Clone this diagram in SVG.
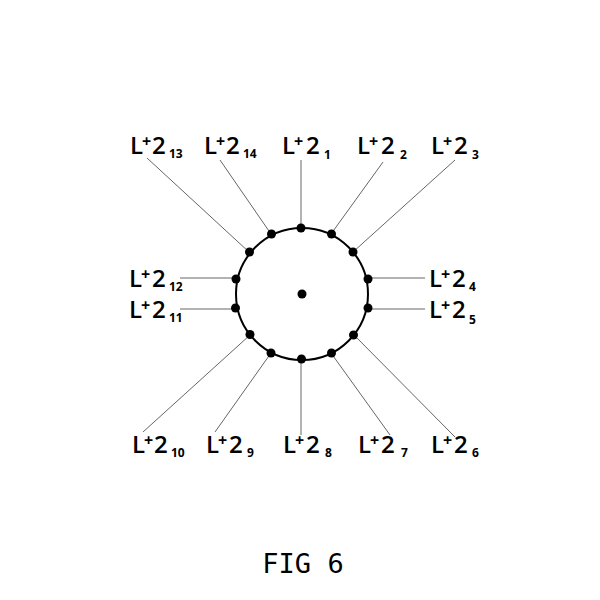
<svg xmlns="http://www.w3.org/2000/svg" width="600" height="600" viewBox="0 0 600 600">
<style>
.lbl{font-family:"Open Sans","DejaVu Sans",sans-serif;font-size:24px;font-weight:600;fill:#000}
.sup{font-size:16px;font-weight:700}
.sub{font-size:12px;font-weight:bold}
.ld{stroke:#666;stroke-width:1;fill:none}
.dot{fill:#000}
.fig{font-family:"DejaVu Sans Mono",monospace;font-size:27px;fill:#000}
</style>
<rect width="600" height="600" fill="#fff"/>
<g id="connectors">
<line class="ld" x1="147" y1="158" x2="249" y2="252"/>
<line class="ld" x1="220" y1="160" x2="271" y2="234"/>
<line class="ld" x1="301" y1="160" x2="301" y2="228"/>
<line class="ld" x1="383" y1="162" x2="331" y2="234"/>
<line class="ld" x1="455" y1="160" x2="353" y2="252"/>
<line class="ld" x1="368" y1="278" x2="425" y2="278"/>
<line class="ld" x1="368" y1="309" x2="425" y2="309"/>
<line class="ld" x1="354" y1="335" x2="455" y2="437"/>
<line class="ld" x1="331" y1="353" x2="390" y2="435"/>
<line class="ld" x1="301" y1="359" x2="301" y2="435"/>
<line class="ld" x1="271" y1="353" x2="215" y2="432"/>
<line class="ld" x1="250" y1="335" x2="143" y2="432"/>
<line class="ld" x1="180" y1="309" x2="236" y2="309"/>
<line class="ld" x1="180" y1="278" x2="236" y2="278"/>
</g>
<g id="ring">
<circle cx="302" cy="294" r="66" fill="none" stroke="#000" stroke-width="2"/>
<circle class="dot" cx="302" cy="294" r="4.5"/>
<circle class="dot" cx="301" cy="228" r="4.5"/>
<circle class="dot" cx="331.5" cy="234" r="4.5"/>
<circle class="dot" cx="353" cy="252" r="4.5"/>
<circle class="dot" cx="368" cy="279" r="4.5"/>
<circle class="dot" cx="368" cy="308" r="4.5"/>
<circle class="dot" cx="353.5" cy="335" r="4.5"/>
<circle class="dot" cx="331.5" cy="353" r="4.5"/>
<circle class="dot" cx="301.5" cy="359" r="4.5"/>
<circle class="dot" cx="271" cy="353" r="4.5"/>
<circle class="dot" cx="250" cy="334.5" r="4.5"/>
<circle class="dot" cx="235.5" cy="308" r="4.5"/>
<circle class="dot" cx="236" cy="279" r="4.5"/>
<circle class="dot" cx="249.5" cy="252" r="4.5"/>
<circle class="dot" cx="271.5" cy="234" r="4.5"/>
</g>
<g id="label-13"><text class="lbl" y="154"><tspan x="130">L</tspan><tspan class="sup" x="142" y="147">+</tspan><tspan x="152" y="154">2</tspan><tspan class="sub" x="169" y="158">13</tspan></text></g>
<g id="label-14"><text class="lbl" y="154"><tspan x="204">L</tspan><tspan class="sup" x="216" y="147">+</tspan><tspan x="226" y="154">2</tspan><tspan class="sub" x="243" y="158">14</tspan></text></g>
<g id="label-1"><text class="lbl" y="154"><tspan x="282">L</tspan><tspan class="sup" x="294" y="147">+</tspan><tspan x="306" y="154">2</tspan><tspan class="sub" x="324" y="159">1</tspan></text></g>
<g id="label-2"><text class="lbl" y="154"><tspan x="357">L</tspan><tspan class="sup" x="369" y="147">+</tspan><tspan x="381" y="154">2</tspan><tspan class="sub" x="400" y="159">2</tspan></text></g>
<g id="label-3"><text class="lbl" y="154"><tspan x="431">L</tspan><tspan class="sup" x="443" y="147">+</tspan><tspan x="454" y="154">2</tspan><tspan class="sub" x="472" y="159">3</tspan></text></g>
<g id="label-12"><text class="lbl" y="287"><tspan x="129">L</tspan><tspan class="sup" x="141" y="280">+</tspan><tspan x="152" y="287">2</tspan><tspan class="sub" x="169" y="291">12</tspan></text></g>
<g id="label-11"><text class="lbl" y="318"><tspan x="129">L</tspan><tspan class="sup" x="141" y="311">+</tspan><tspan x="152" y="318">2</tspan><tspan class="sub" x="169" y="322">11</tspan></text></g>
<g id="label-4"><text class="lbl" y="287"><tspan x="429">L</tspan><tspan class="sup" x="441" y="280">+</tspan><tspan x="452" y="287">2</tspan><tspan class="sub" x="469" y="291">4</tspan></text></g>
<g id="label-5"><text class="lbl" y="318"><tspan x="429">L</tspan><tspan class="sup" x="441" y="311">+</tspan><tspan x="452" y="318">2</tspan><tspan class="sub" x="469" y="324">5</tspan></text></g>
<g id="label-10"><text class="lbl" y="453"><tspan x="132">L</tspan><tspan class="sup" x="144" y="446">+</tspan><tspan x="154" y="453">2</tspan><tspan class="sub" x="171" y="457">10</tspan></text></g>
<g id="label-9"><text class="lbl" y="453"><tspan x="206">L</tspan><tspan class="sup" x="218" y="446">+</tspan><tspan x="229" y="453">2</tspan><tspan class="sub" x="247" y="457">9</tspan></text></g>
<g id="label-8"><text class="lbl" y="453"><tspan x="283">L</tspan><tspan class="sup" x="295" y="446">+</tspan><tspan x="306" y="453">2</tspan><tspan class="sub" x="325" y="457">8</tspan></text></g>
<g id="label-7"><text class="lbl" y="453"><tspan x="358">L</tspan><tspan class="sup" x="370" y="446">+</tspan><tspan x="381" y="453">2</tspan><tspan class="sub" x="401" y="457">7</tspan></text></g>
<g id="label-6"><text class="lbl" y="453"><tspan x="431">L</tspan><tspan class="sup" x="443" y="446">+</tspan><tspan x="454" y="453">2</tspan><tspan class="sub" x="472" y="457">6</tspan></text></g>
<text class="fig" x="303" y="573" text-anchor="middle">FIG 6</text>
</svg>
